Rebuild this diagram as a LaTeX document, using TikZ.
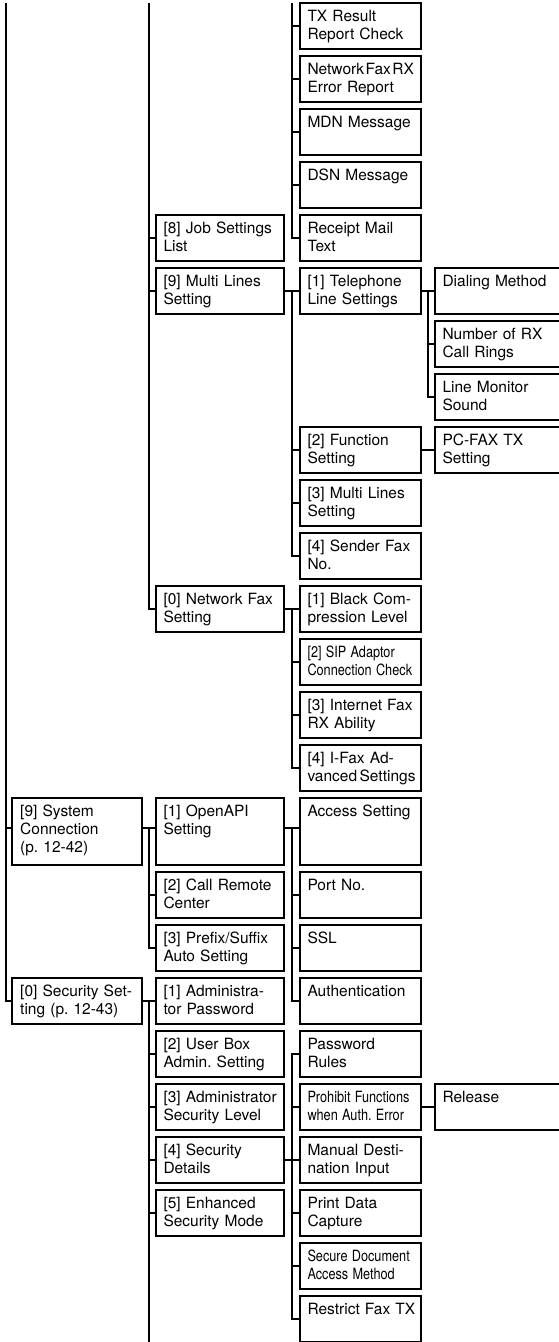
\documentclass[tikz,border=0pt]{standalone}
\usepackage{fontspec}
\setmainfont{TeX Gyre Heros}
\usepackage{graphicx}
\usetikzlibrary{positioning}
\newcommand{\narrowtext}[1]{\scalebox{0.82}[1]{#1}}
\newcommand{\boxfont}{\fontsize{15.5pt}{18.3pt}\selectfont\frenchspacing\hyphenpenalty=10000\relax}

\begin{document}
\begin{tikzpicture}[
  node distance=7.5pt and 14pt,
  box/.style={draw, line width=2pt, outer sep=0pt, align=left, inner xsep=8pt, inner ysep=0pt,
    text height=18pt, text depth=27.5pt, font=\boxfont},
  tall/.style={text depth=48.5pt},
  col1/.style={text width=114pt},
  col2/.style={text width=112pt},
  col3/.style={text width=105pt},
  col4/.style={text width=112pt},
  link/.style={line width=2pt}
]
\useasboundingbox (0,0) rectangle (558pt,-1342pt);
\coordinate (v0) at (5.5pt,-3.3pt);
\coordinate (v1) at (149pt,-3.3pt);
\coordinate (v2) at (292pt,-3.3pt);
\coordinate (v3) at (428pt,-3.3pt);
\coordinate (bot) at (0pt,-1342pt);

\node[box, col3, anchor=north west] (tx) at (299.5pt,-3.3pt) {TX Result\\Report Check};
\node[box, col3, below=of tx] (nfrx) {{\spaceskip=1.5pt Network~Fax~RX}\\Error Report};
\node[box, col3, below=of nfrx] (mdn) {MDN~Message};
\node[box, col3, below=of mdn] (dsn) {DSN~Message};
\node[box, col3, below=of dsn] (rcpt) {Receipt Mail\\Text};
\node[box, col3, below=of rcpt] (tel) {[1] Telephone\\Line Settings};
\node[box, col4, right=of tel] (dial) {Dialing Method};
\node[box, col4, below=of dial] (nrx) {Number of RX\\Call Rings};
\node[box, col4, below=of nrx] (lmon) {Line Monitor\\Sound};
\node[box, col4, below=of lmon] (pcfax) {PC-FAX TX\\Setting};
\node[box, col3, left=of pcfax] (func) {[2] Function\\Setting};
\node[box, col3, below=of func] (mlt) {[3]~Multi~Lines\\Setting};
\node[box, col3, below=of mlt] (sfax) {[4]~Sender~Fax\\No.};
\node[box, col3, below=of sfax] (blk) {[1]~Black~Com-\\pression~Level};
\node[box, col3, below=of blk] (sip) {\narrowtext{[2] SIP Adaptor}\\\narrowtext{Connection Check}};
\node[box, col3, below=of sip] (ifrx) {[3]~Internet~Fax\\RX Ability};
\node[box, col3, below=of ifrx] (ifax) {[4]~I-Fax~Ad-\\{\spaceskip=2.5pt vanced~Settings}};
\node[box, col3, tall, below=of ifax] (acc) {Access~Setting};
\node[box, col3, below=of acc] (port) {Port No.};
\node[box, col3, below=of port] (ssl) {SSL};
\node[box, col3, below=of ssl] (auth) {Authentication};
\node[box, col3, below=of auth] (pwd) {Password\\Rules};
\node[box, col3, below=of pwd] (prh) {\narrowtext{Prohibit Functions}\\\narrowtext{when Auth. Error}};
\node[box, col4, right=of prh] (rel) {Release};
\node[box, col3, below=of prh] (man) {Manual~Desti-\\nation Input};
\node[box, col3, below=of man] (prt) {Print Data\\Capture};
\node[box, col3, below=of prt] (sdoc) {\narrowtext{Secure Document}\\\narrowtext{Access Method}};
\node[box, col3, below=of sdoc] (rfax) {Restrict~Fax~TX};

\node[box, col2, left=16pt of rcpt] (job) {[8]~Job~Settings\\List};
\node[box, col2, left=16pt of tel] (mls) {[9]~Multi~Lines\\Setting};
\node[box, col2, left=16pt of blk] (nfax) {[0]~Network~Fax\\Setting};
\node[box, col2, tall, left=16pt of acc] (open) {[1] OpenAPI\\Setting};
\node[box, col2, left=16pt of port] (crc) {[2]~Call~Remote\\Center};
\node[box, col2, left=16pt of ssl] (pfx) {[3]~Prefix/Suffix\\Auto Setting};
\node[box, col2, left=16pt of auth] (adm) {[1]~Administra-\\tor Password};
\node[box, col2, left=16pt of pwd] (ubox) {[2] User Box\\Admin. Setting};
\node[box, col2, left=16pt of prh] (asec) {[3]~Administrator\\Security Level};
\node[box, col2, left=16pt of man] (sdet) {[4] Security\\Details};
\node[box, col2, left=16pt of prt] (enh) {[5] Enhanced\\Security Mode};

\node[box, col1, tall, left=13.3pt of open] (sys) {[9] System\\Connection\\(p. 12-42)};
\node[box, col1, left=13.3pt of adm] (sec) {[0]~Security~Set-\\ting (p. 12-43)};

\draw[link] (v0) |- (sec.west);
\draw[link] ([yshift=4pt]sys.west) -- ([yshift=4pt]sys.west -| v0);

\draw[link] (v1) |- (nfax.west);
\foreach \n in {job,mls} \draw[link] (\n.west) -- (\n.west -| v1);
\draw[link] ([yshift=4pt]sys.east) -- ([yshift=4pt]open.west);
\draw[link] ([yshift=4pt]open.west -| v1) |- (pfx.west);
\draw[link] (crc.west) -- (crc.west -| v1);
\draw[link] (sec.east) -- (adm.west);
\draw[link] (adm.west -| v1) -- (v1 |- bot);
\foreach \n in {ubox,asec,sdet,enh} \draw[link] (\n.west) -- (\n.west -| v1);

\draw[link] (v2) |- (rcpt.west);
\foreach \n in {tx,nfrx,mdn,dsn} \draw[link] (\n.west) -- (\n.west -| v2);
\draw[link] (mls.east) -- (tel.west);
\draw[link] (tel.west -| v2) |- (sfax.west);
\foreach \n in {func,mlt} \draw[link] (\n.west) -- (\n.west -| v2);
\draw[link] (nfax.east) -- (blk.west);
\draw[link] (blk.west -| v2) |- (ifax.west);
\foreach \n in {sip,ifrx} \draw[link] (\n.west) -- (\n.west -| v2);
\draw[link] ([yshift=4pt]open.east) -- ([yshift=4pt]acc.west);
\draw[link] ([yshift=4pt]acc.west -| v2) |- (auth.west);
\foreach \n in {port,ssl} \draw[link] (\n.west) -- (\n.west -| v2);
\draw[link] (sdet.east) -- (man.west);
\draw[link] (pwd.west) -| (rfax.west -| v2) -- (rfax.west);
\foreach \n in {prh,prt,sdoc} \draw[link] (\n.west) -- (\n.west -| v2);

\draw[link] (tel.east) -- (dial.west);
\draw[link] (dial.west -| v3) |- (lmon.west);
\draw[link] (nrx.west) -- (nrx.west -| v3);
\draw[link] (func.east) -- (pcfax.west);
\draw[link] (prh.east) -- (rel.west);
\end{tikzpicture}
\end{document}
